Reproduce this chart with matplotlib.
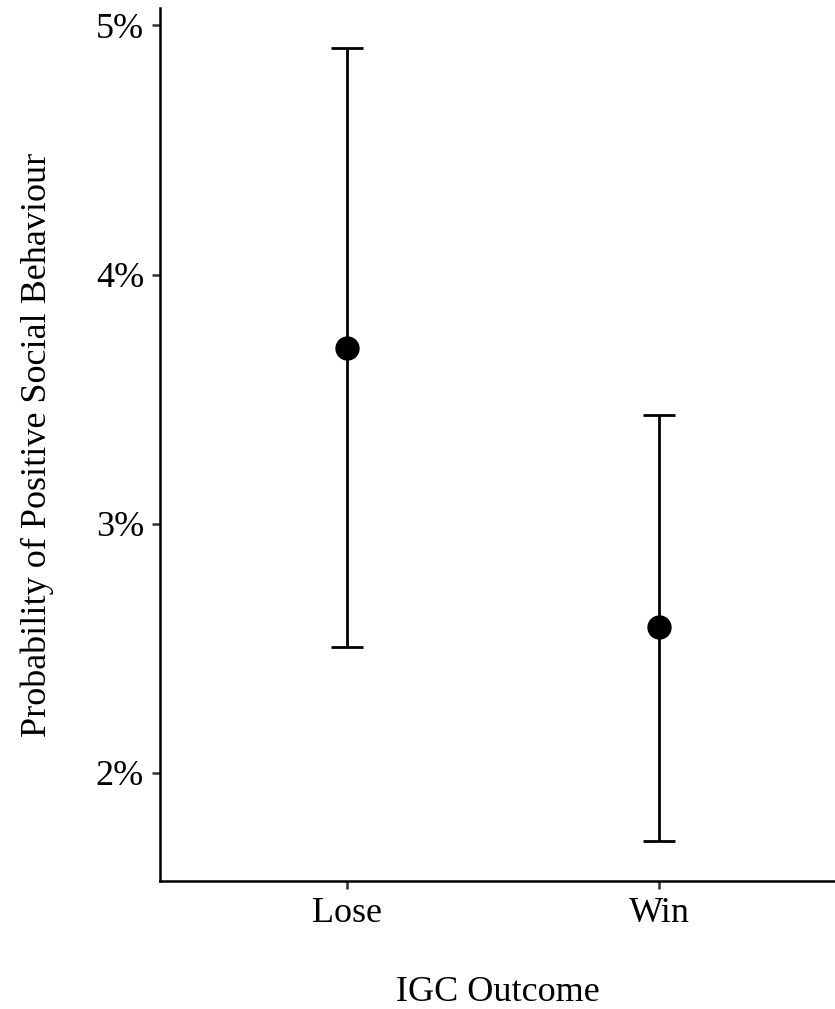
import matplotlib
matplotlib.use("Agg")
import matplotlib.pyplot as plt
from matplotlib.ticker import FuncFormatter

outcomes = ["Lose", "Win"]
prob = [3.706, 2.584]
lower = [2.504, 1.724]
upper = [4.911, 3.434]
y_ticks = [2, 3, 4, 5]

plt.rcParams["font.family"] = ["Liberation Serif", "DejaVu Serif"]

fig = plt.figure(figsize=(8.35, 10.09), dpi=100)
ax = fig.add_axes([160 / 835, 1 - 881 / 1009, 675 / 835, 873 / 1009])

xs = range(1, len(outcomes) + 1)
yerr = [[p - lo for p, lo in zip(prob, lower)], [hi - p for p, hi in zip(prob, upper)]]
ax.errorbar(xs, prob, yerr=yerr, fmt="none", ecolor="black", elinewidth=2.0,
            capsize=11.5, capthick=2.0)
ax.plot(xs, prob, "o", color="black", markersize=16.5)

ax.set_xlim(0.4, 2.563)
ax.set_ylim(1.565, 5.07)
ax.set_xticks(list(xs))
ax.set_xticklabels(outcomes)
ax.set_yticks(y_ticks)
ax.yaxis.set_major_formatter(FuncFormatter(lambda v, _: f"{v:.0f}%"))

for side in ["top", "right"]:
    ax.spines[side].set_visible(False)
for side in ["left", "bottom"]:
    ax.spines[side].set_linewidth(1.8)
    ax.spines[side].set_color("black")

ax.tick_params(length=5.5, width=1.8, color="#333333", labelsize=26,
               labelcolor="black", pad=6)
ax.set_xlabel("IGC Outcome", fontsize=26, labelpad=33)
ax.set_ylabel("Probability of Positive Social Behaviour", fontsize=26, labelpad=30)

fig.savefig("out.png", dpi=100)
